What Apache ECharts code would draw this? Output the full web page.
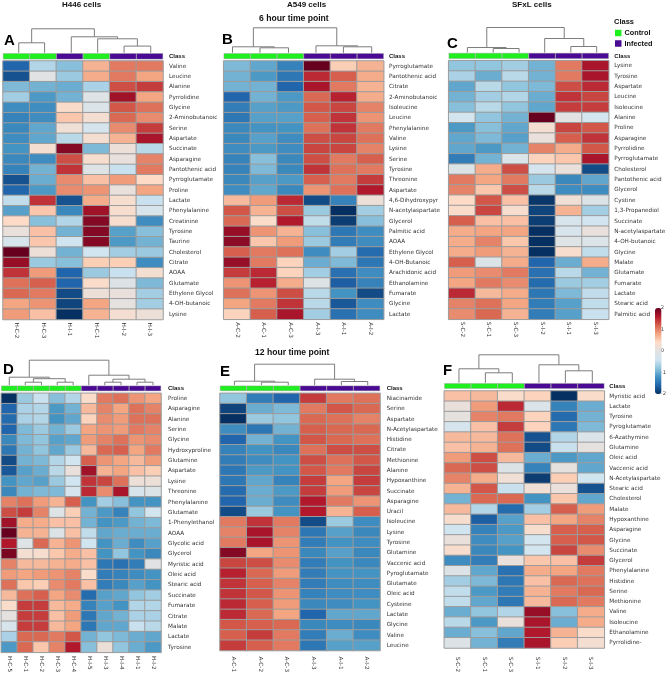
<!DOCTYPE html>
<html><head><meta charset="utf-8">
<style>html,body{margin:0;padding:0;background:#fff}#c{width:669px;height:675px}</style>
<script src="https://cdn.jsdelivr.net/npm/echarts@6/dist/echarts.min.js"></script>
</head><body><div id="c"></div>
<script>
const rowsA=['Valine','Leucine','Alanine','Pyrrolidine','Glycine','2-Aminobutanoic','Serine','Aspartate','Succinate','Asparagine','Pantothenic acid','Pyrroglutamate','Proline','Lactate','Phenylalanine','Creatinine','Tyrosine','Taurine','Cholesterol','Citrate','AOAA','Glutamate','Ethylene Glycol','4-OH-butanoic','Lysine'];
const colsA=['H-C-2','H-C-3','H-I-1','H-C-1','H-I-2','H-I-3'];
const classA=['Control','Control','Infected','Control','Infected','Infected'];
const valuesA=[[-1.6,-0.6,-0.85,0.7,1.05,1.05],[-1.75,-0.05,-0.75,0.75,1.05,0.8],[-0.9,-0.95,-1.0,-0.65,1.3,1.4],[-0.7,-1.15,-0.95,-0.1,1.7,0.8],[-1.25,-1.25,0.35,-0.2,1.25,1.1],[-1.35,-1.25,0.55,0.25,1.15,0.95],[-1.3,-1.05,0.2,-0.3,0.95,1.4],[-1.25,-1.05,-0.55,0.25,0.7,1.65],[-1.2,0.25,1.85,-0.9,0.15,-0.55],[-1.3,-1.25,1.3,0.3,0.1,1.0],[-1.35,-0.95,1.45,-0.1,-0.45,1.05],[-1.75,-1.0,0.95,0.6,0.85,0.4],[-1.6,-1.15,0.95,0.9,0.1,0.8],[-0.5,1.45,-1.75,0.75,0.3,-0.45],[-1.1,0.55,-1.3,1.7,0.3,-0.25],[0.4,-0.85,-0.6,1.85,0.3,-1.25],[0.1,0.6,-0.95,1.85,-1.1,-0.85],[-0.25,0.55,-0.4,1.85,-1.15,-0.95],[2,0.15,-0.95,-0.4,-0.7,-0.75],[1.75,-0.75,-0.85,0.5,0.5,-1.25],[1.45,0.85,-1.6,-0.75,-0.45,0.25],[1.1,1.2,-1.6,0.35,-0.15,-0.9],[1.15,1.05,-1.8,0.15,0.1,-0.7],[0.8,0.9,-1.85,0.8,0.05,-0.7],[0.85,0.6,-2,0.7,0.25,0.15]];
const leavesA=[0.59,1.56,2.56,3.55,4.54,5.54];
const treeA=[[0,1,10],[2,[3,[4,5,6.7],14],16],24];

const rowsB=['Pyrroglutamate','Pantothenic acid','Citrate','2-Aminobutanoic','Isoleucine','Leucine','Phenylalanine','Valine','Lysine','Serine','Tyrosine','Threonine','Aspartate','4,6-Dihydroxypyr','N-acetylaspartate','Glycerol','Palmitic acid','AOAA','Ethylene Glycol','4-OH-Butanoic','Arachidonic acid','Ethanolamine','Fumarate','Glycine','Lactate'];
const colsB=['A-C-2','A-C-1','A-C-3','A-I-3','A-I-1','A-I-2'];
const classB=['Control','Control','Control','Infected','Infected','Infected'];
const valuesB=[[-0.9,-1.05,-1.35,2,0.5,0.7],[-0.95,-1.15,-1.45,1.5,1.2,0.75],[-0.95,-0.95,-1.6,1.65,1.05,0.7],[-1.6,-0.95,-1.15,1.15,1.55,0.75],[-1.4,-1.1,-1.15,1.25,1.35,1.0],[-1.45,-1.1,-1.1,1.2,1.45,0.9],[-1.3,-1.2,-1.2,1.1,1.45,1.05],[-1.3,-1.1,-1.25,1.3,1.35,1.1],[-1.25,-1.15,-1.25,1.35,1.35,1.0],[-1.35,-0.85,-1.3,1.3,1.05,1.2],[-1.35,-0.9,-1.3,1.45,1.1,1.05],[-1.3,-1.1,-1.15,1.2,1.05,1.4],[-1.25,-1.05,-1.3,0.9,1.1,1.6],[0.65,0.85,1.5,-1.8,-1.35,0.15],[1.25,0.7,1.3,-0.75,-2,-0.7],[1.15,0.35,1.6,-0.5,-1.9,-0.85],[1.75,0.9,0.7,-0.85,-1.45,-1.25],[1.8,0.55,0.85,-0.75,-1.4,-1.25],[1.2,1.05,1.1,-1.25,-0.7,-1.55],[1.75,1.05,0.45,-1.0,-0.9,-1.45],[1.4,1.5,0.45,-0.7,-1.5,-1.25],[0.9,1.55,0.75,-0.1,-1.65,-1.35],[1.1,0.9,1.3,-0.55,-1.2,-1.8],[0.8,1.05,1.45,-0.55,-1.7,-1.25],[0.45,1.2,1.65,-0.7,-1.5,-1.25]];
const leavesB=[0.33,1.36,2.43,3.46,4.49,5.55];
const treeB=[[0,[1,2,5],6],[3,[4,5,6],7],25];

const rowsC=['Lysine','Tyrosine','Aspartate','Leucine','Isoleucine','Alanine','Proline','Asparagine','Pyrrolidine','Pyrroglutamate','Cholesterol','Pantothenic acid','Glycerol','Cystine','1,3-Propanediol','Succinate','N-acetylaspartate','4-OH-butanoic','Glycine','Malate','Glutamate','Fumarate','Lactate','Stearic acid','Palmitic acid'];
const colsC=['S-C-2','S-C-1','S-C-3','S-I-2','S-I-1','S-I-3'];
const classC=['Control','Control','Control','Infected','Infected','Infected'];
const valuesC=[[-0.8,-0.8,-0.7,-0.95,1.05,1.65],[-0.65,-1.0,-0.55,-0.95,1.05,1.65],[-1.05,-0.55,-0.8,-0.9,1.3,1.5],[-0.95,-0.7,-0.6,-1.0,1.45,1.35],[-0.85,-0.55,-0.8,-1.05,1.4,1.4],[-0.35,-0.8,-0.95,2,0,-0.35],[-1.15,-0.85,-1.05,0.25,1.35,1.25],[-1.05,-0.9,-1.1,0.1,1.2,1.45],[-1.05,-1.15,-0.95,1.0,0.75,1.25],[-1.4,-0.95,-0.2,0.45,0.55,1.65],[-0.15,0.75,1.3,-0.3,0.1,-1.8],[1.05,0.8,1.05,-0.75,-1.3,-1.05],[1.0,0.55,1.3,-0.55,-1.25,-1.25],[0.4,1.25,0.6,-1.95,0.2,-0.15],[0.35,1.35,0.3,-1.85,0.7,-0.7],[1.2,0.6,0.6,-1.9,-0.25,-0.4],[0.75,0.8,0.8,-2,-0.25,0.1],[0.75,1.0,0.55,-2,-0.1,-0.2],[0.75,0.85,0.7,-2,0.3,-0.5],[1.2,-0.15,0.75,-1.6,-1.0,0.75],[0.85,0.95,1.05,-1.5,-0.55,-0.95],[0.8,1.05,0.95,-1.55,-0.75,-0.7],[1.5,0.65,0.75,-1.45,-0.9,-0.5],[1.0,1.1,0.8,-1.4,-1.1,-0.5],[0.95,1.15,0.7,-1.4,-1.1,-0.45]];
const leavesC=[0.7,1.67,2.64,3.6,4.58,5.55];
const treeC=[[0,[1,2,4],5],[3,[4,5,6],14],25];

const rowsD=['Proline','Asparagine','Alanine','Serine','Glycine','Hydroxyproline','Glutamine','Aspartate','Lysine','Threonine','Phenylalanine','Glutamate','1-Phenylethanol','AOAA','Glycolic acid','Glycerol','Myristic acid','Oleic acid','Stearic acid','Succinate','Fumarate','Citrate','Malate','Lactate','Tyrosine'];
const colsD=['H-C-5','H-C-1','H-C-2','H-C-3','H-C-4','H-I-5','H-I-3','H-I-4','H-I-1','H-I-2'];
const classD=['Control','Control','Control','Control','Control','Infected','Infected','Infected','Infected','Infected'];
const valuesD=[[-2,-0.75,-0.45,-0.85,-0.6,0.35,1.05,1.1,0.9,0.8],[-1.6,-0.65,-0.6,-1.15,-0.95,0.65,1.0,0.8,1.1,1.0],[-1.55,-0.65,-0.6,-1.2,-1.05,0.45,0.95,0.85,1.1,1.1],[-1.6,-0.9,-0.75,-0.95,-0.75,0.8,0.9,0.85,1.05,1.0],[-1.3,-0.9,-0.8,-1.1,-1.05,0.85,1.0,1.1,0.9,0.95],[-1.45,-0.95,-0.8,-1.05,-0.75,0.65,1.15,1.2,0.8,1.05],[-1.8,-0.95,-0.9,-0.6,-0.4,1.2,0.9,0.8,0.65,0.85],[-1.7,-1.1,-1.0,-0.55,0.1,1.7,0.7,0.8,0.6,0.5],[-1.2,-1.05,-1.1,-0.75,-0.4,1.45,1.35,1.1,0.15,0.15],[-1.3,-0.95,-0.9,-0.9,-0.3,1.5,0.95,1.65,-0.25,-0.15],[1.0,1.1,0.85,0.7,1.2,-1.2,-0.7,-0.85,-1.2,-1.2],[1.3,1.4,1.0,-0.1,0.5,-0.95,-1.15,-1.35,-0.8,-0.35],[1.7,0.75,0.75,0.6,0.6,-0.95,-1.2,-1.15,-0.95,-0.9],[2,0.7,0.7,-0.15,0.6,-0.5,-1.05,-1.0,-1.0,-1.0],[1.6,-0.1,1.15,0.7,0.9,-0.4,-1.2,-1.0,-1.25,-1.1],[1.9,0.25,0.3,0.55,0.75,0.6,-1.2,-0.8,-1.2,-1.3],[1.0,0.65,0.65,0.7,0.75,0.6,-1.45,-1.5,-1.4,-0.05],[0.85,0.8,0.85,0.9,1.0,0.35,-1.4,-1.35,-1.25,-1.2],[1.1,0.55,0.5,0.95,1.05,0.6,-1.4,-1.3,-1.1,-1.2],[0.65,1.1,1.2,0.8,0.95,-1.55,-1.1,-1.05,-0.8,-0.7],[0.35,1.4,1.4,0.65,0.75,-1.35,-1.1,-1.2,-0.6,-0.6],[0.05,1.4,1.4,0.6,0.85,-1.45,-1.05,-0.95,-0.65,-0.65],[-0.25,1.4,1.4,0.65,0.8,-1.45,-1.05,-1.05,-0.45,-0.55],[-0.65,1.15,1.15,1.05,1.25,-0.95,-0.8,-0.9,-1.0,-1.05],[-1.15,1.15,0.55,1.0,1.6,-0.85,0.15,-0.8,-1.0,-1.15]];
const leavesD=[0.5,1.5,2.52,3.5,4.5,5.48,6.48,7.5,8.5,9.5];
const treeD=[[0,[[1,2,3],[3,4,3],6.5],8],[5,[[6,7,3],[8,9,3],6],10],25];

const rowsE=['Niacinamide','Serine','Aspartate','N-Acetylaspartate','Histidine','Citrate','Methionine','Alanine','Hypoxanthine','Succinate','Asparagine','Uracil','Isoleucine','Lysine','Tyrosine','Glutamine','Vaccenic acid','Pyroglutamate','Glutamate','Oleic acid','Cysteine','Lactate','Glycine','Valine','Leucine'];
const colsE=['A-C-1','A-C-2','A-C-3','A-I-3','A-I-1','A-I-2'];
const classE=['Control','Control','Control','Infected','Infected','Infected'];
const valuesE=[[-0.8,-1.4,-1.6,1.4,1.05,1.1],[-1.85,-1.0,-0.9,1.05,1.25,1.15],[-2,-0.75,-0.8,1.15,1.1,1.0],[-1.25,-1.45,-0.95,1.2,1.15,1.15],[-1.6,-0.95,-1.2,1.25,1.15,1.1],[-1.35,-1.2,-1.3,1.1,1.3,1.3],[-1.4,-1.25,-1.2,1.3,1.1,1.25],[-1.45,-1.15,-1.2,1.25,1.05,1.35],[-1.45,-1.05,-1.35,1.4,0.8,1.4],[-1.55,-1.0,-1.15,1.4,0.85,1.35],[-1.6,-1.0,-1.25,1.6,1.05,0.9],[-1.8,-0.75,-1.2,1.6,0.7,1.2],[1.05,1.45,1.05,-1.8,-0.75,-1.25],[1.0,1.65,1.0,-1.45,-1.1,-1.3],[1.05,1.65,0.9,-1.4,-1.2,-1.25],[1.85,0.8,0.9,-1.3,-1.1,-1.3],[1.35,1.3,0.95,-1.4,-1.2,-1.3],[1.55,1.15,0.85,-1.4,-1.2,-1.2],[1.45,1.2,1.0,-1.4,-1.25,-1.25],[1.45,1.25,0.9,-1.35,-1.25,-1.25],[1.5,1.2,0.85,-1.3,-1.25,-1.2],[1.5,1.15,0.8,-1.6,-1.05,-1.05],[1.25,1.2,1.15,-1.3,-1.25,-1.3],[1.2,1.4,1.05,-1.4,-1.0,-1.25],[1.4,1.2,1.05,-1.45,-1.1,-1.1]];
const leavesE=[0.54,1.55,2.56,3.55,4.55,5.54];
const treeE=[[0,[1,2,3],4],[3,[4,5,3.7],6],21];

const rowsF=['Myristic acid','Lactate','Tyrosine','Pyroglutamate','6-Azathymine','Glutamine','Oleic acid','Vaccenic acid','N-Acetylaspartate','Stearic acid','Cholesterol','Malate','Hypoxanthine','Asparagine','Glycine','Succinate','Glycerol','Phenylalanine','Histidine','Serine','Methionine','Valine','Isoleucine','Ethanolamine','Pyrrolidine-'];
const colsF=['S-C-2','S-C-1','S-C-3','S-I-1','S-I-2','S-I-3'];
const classF=['Control','Control','Control','Infected','Infected','Infected'];
const valuesF=[[0.6,0.65,0.35,0.45,-2,0.35],[0.1,0.85,1.5,-0.2,-1.35,-1.0],[0.05,1.0,1.05,0.45,-1.55,-0.95],[-0.3,0.6,1.4,0.45,-1.45,-0.9],[0.65,0.65,1.1,-1.75,-0.6,-0.2],[0.6,0.7,1.1,-1.8,-0.45,0.05],[0.85,1.3,0.65,-1.0,-1.15,-1.05],[1.15,1.3,-0.15,-1.35,0.05,-1.05],[1.0,0.75,0.2,-1.9,0.5,-0.4],[0.7,1.25,-0.45,0.2,0.1,-1.75],[-0.95,1.15,1.15,-1.2,0.55,-1.05],[0.65,-0.6,-1.55,-0.7,1.2,0.85],[0.3,-1.65,-1.1,0.6,0.8,1.0],[-0.4,-1.35,-1.15,0.3,1.2,1.2],[0.1,-1.25,-1.1,-0.35,1.2,1.25],[0.3,-1.3,-1.2,-0.35,1.35,0.95],[-1.25,-1.4,0.1,0.55,0.6,1.4],[-0.15,-1.05,-1.5,0.75,0.8,1.05],[-0.7,-0.9,-1.45,0.6,1.15,1.1],[-0.5,-1.15,-1.4,0.7,1.05,1.15],[-0.5,-1.05,-1.45,0.65,1.15,1.05],[-1.0,-0.8,-0.6,1.75,-0.85,0.75],[-0.55,-1.15,0.1,1.65,-1.0,0.75],[-1.0,-0.85,-1.05,1.6,0.7,0.35],[-0.15,-0.95,-1.4,1.65,0.5,0.25]];
const leavesF=[0.55,1.54,2.55,3.55,4.54,5.55];
const treeF=[[0,[1,2,10],14],[3,[4,5,12],18],28];

const classNames=['Control','Infected'];
const classColors={Control:'#1fee1f',Infected:'#4a0a94'};
const heatColors=['#053061','#2166ac','#4393c3','#92c5de','#d1e5f0','#e2e2e2','#fddbc7','#f4a582','#d6604d','#b2182b','#67001f'];
const scaleTicks=[-2,2];

const panels=[
 {id:'A',rows:rowsA,cols:colsA,cls:classA,vals:valuesA,leaves:leavesA,tree:treeA,x:3,w:160,top:61,h:258.5,barTop:53.3,barH:6,lx:4,ly:33,xm:3,ym:6},
 {id:'B',rows:rowsB,cols:colsB,cls:classB,vals:valuesB,leaves:leavesB,tree:treeB,x:223.7,w:160,top:61,h:258.3,barTop:53.3,barH:5.7,lx:222,ly:32,xm:3,ym:5.3},
 {id:'C',rows:rowsC,cols:colsC,cls:classC,vals:valuesC,leaves:leavesC,tree:treeC,x:448.7,w:160,top:60.7,h:258.6,barTop:53,barH:5.8,lx:447,ly:36,xm:2.5,ym:5.6},
 {id:'D',rows:rowsD,cols:colsD,cls:classD,vals:valuesD,leaves:leavesD,tree:treeD,x:1.3,w:159.7,top:393.3,h:261,barTop:385.7,barH:5.4,lx:3,ly:362,xm:3.7,ym:7},
 {id:'E',rows:rowsE,cols:colsE,cls:classE,vals:valuesE,leaves:leavesE,tree:treeE,x:220,w:160,top:393.3,h:258.4,barTop:385.7,barH:5.3,lx:220,ly:364,xm:6,ym:6.7},
 {id:'F',rows:rowsF,cols:colsF,cls:classF,vals:valuesF,leaves:leavesF,tree:treeF,x:444.3,w:160,top:391,h:258.3,barTop:383.3,barH:5.4,lx:443,ly:363,xm:8.7,ym:5}
];

const FONT='"DejaVu Sans"';
const HEAD='"Liberation Sans"';
const labelSize=5.7;
const hidden={show:false};
const grid=[],xAxis=[],yAxis=[],series=[],title=[];
const heatIdx=[];

function walk(node,leaves,out){
  if(typeof node==='number')return {x:leaves[node],h:0};
  const a=walk(node[0],leaves,out),b=walk(node[1],leaves,out);
  out.push([a.x,a.h,a.x,node[2],b.x,node[2],b.x,b.h]);
  return {x:(a.x+b.x)/2,h:node[2]};
}
const head=(text,left,top,size,color)=>({text,left,top,padding:0,textStyle:{fontFamily:HEAD,fontWeight:'bold',fontSize:size,color:color||'#111'}});

panels.forEach(p=>{
  // heatmap
  let g=grid.length;
  grid.push({left:p.x,top:p.top,width:p.w,height:p.h});
  xAxis.push({gridIndex:g,type:'category',data:p.cols,position:'bottom',axisLine:hidden,axisTick:hidden,splitLine:hidden,
    axisLabel:{rotate:-90,interval:0,margin:p.xm,fontSize:labelSize,fontFamily:FONT,color:'#333'}});
  yAxis.push({gridIndex:g,type:'category',data:p.rows,inverse:true,position:'right',axisLine:hidden,axisTick:hidden,splitLine:hidden,
    axisLabel:{interval:0,margin:p.ym,fontSize:labelSize,fontFamily:FONT,color:'#333'}});
  heatIdx.push(series.length);
  const data=[];
  p.vals.forEach((r,i)=>r.forEach((v,j)=>data.push([j,i,v])));
  series.push({type:'heatmap',xAxisIndex:g,yAxisIndex:g,data,progressive:0,silent:true,
    itemStyle:{borderColor:'#9c9c9c',borderWidth:1}});
  // class bar
  g=grid.length;
  grid.push({left:p.x,top:p.barTop,width:p.w,height:p.barH});
  xAxis.push({gridIndex:g,type:'category',data:p.cols,show:false});
  yAxis.push({gridIndex:g,type:'value',min:0,max:1,show:false});
  classNames.forEach(name=>{
    series.push({name,type:'bar',stack:'cl'+p.id,xAxisIndex:g,yAxisIndex:g,barWidth:'100%',silent:true,
      itemStyle:{color:classColors[name],borderColor:'#9a9a9a',borderWidth:0.4},
      data:p.cls.map(c=>c===name?1:'-')});
  });
  title.push(head('Class',p.x+p.w+p.ym,p.barTop,labelSize+0.3));
  // dendrogram
  g=grid.length;
  grid.push({left:p.x,top:p.barTop-30.5,width:p.w,height:30});
  xAxis.push({gridIndex:g,type:'value',min:0,max:p.cols.length,show:false});
  yAxis.push({gridIndex:g,type:'value',min:0,max:30,show:false});
  const segs=[];walk(p.tree,p.leaves,segs);
  series.push({type:'custom',xAxisIndex:g,yAxisIndex:g,silent:true,clip:false,data:segs,
    encode:{x:[0,2,4,6],y:[1,3,5,7]},
    renderItem:(params,api)=>{
      const pts=[0,2,4,6].map(k=>api.coord([api.value(k),api.value(k+1)]));
      return {type:'polyline',shape:{points:pts},style:{fill:null,stroke:'#7d7d7d',lineWidth:1}};
    }});
  title.push(head(p.id,p.lx,p.ly,15,'#000'));
});

// colour scale axis
const cg=grid.length;
grid.push({left:655,top:308,width:6.5,height:86});
xAxis.push({gridIndex:cg,type:'value',show:false});
yAxis.push({gridIndex:cg,type:'value',min:scaleTicks[0],max:scaleTicks[1],interval:1,position:'right',axisLine:hidden,axisTick:hidden,splitLine:hidden,
  axisLabel:{margin:2,fontSize:5.2,fontFamily:FONT,color:'#444'}});

title.push(
  head('H446 cells',62,0.5,8),head('A549 cells',287,0.5,8),head('SFxL cells',512,0.5,8),
  head('6 hour time point',259,14,8.6),head('12 hour time point',255,348.5,8.6),
  head('Class',614,17.5,7.5)
);

const chart=echarts.init(document.getElementById('c'),null,{renderer:'canvas'});
chart.setOption({
  animation:false,backgroundColor:'#fff',title,grid,xAxis,yAxis,series,
  legend:{left:615,top:29.5,orient:'vertical',padding:0,itemWidth:6.5,itemHeight:6.5,itemGap:3.5,
    icon:'rect',selectedMode:false,data:classNames,
    textStyle:{fontFamily:HEAD,fontWeight:'bold',fontSize:7.3,color:'#111',padding:[0,0,0,-2]},
    itemStyle:{borderWidth:0}},
  visualMap:{type:'continuous',min:-2,max:2,seriesIndex:heatIdx,inRange:{color:heatColors},
    left:655,top:308,itemWidth:6.5,itemHeight:86,padding:0,calculable:false,realtime:false,text:null,showLabel:false,
    textStyle:{fontSize:0},hoverLink:false}
});
</script></body></html>
